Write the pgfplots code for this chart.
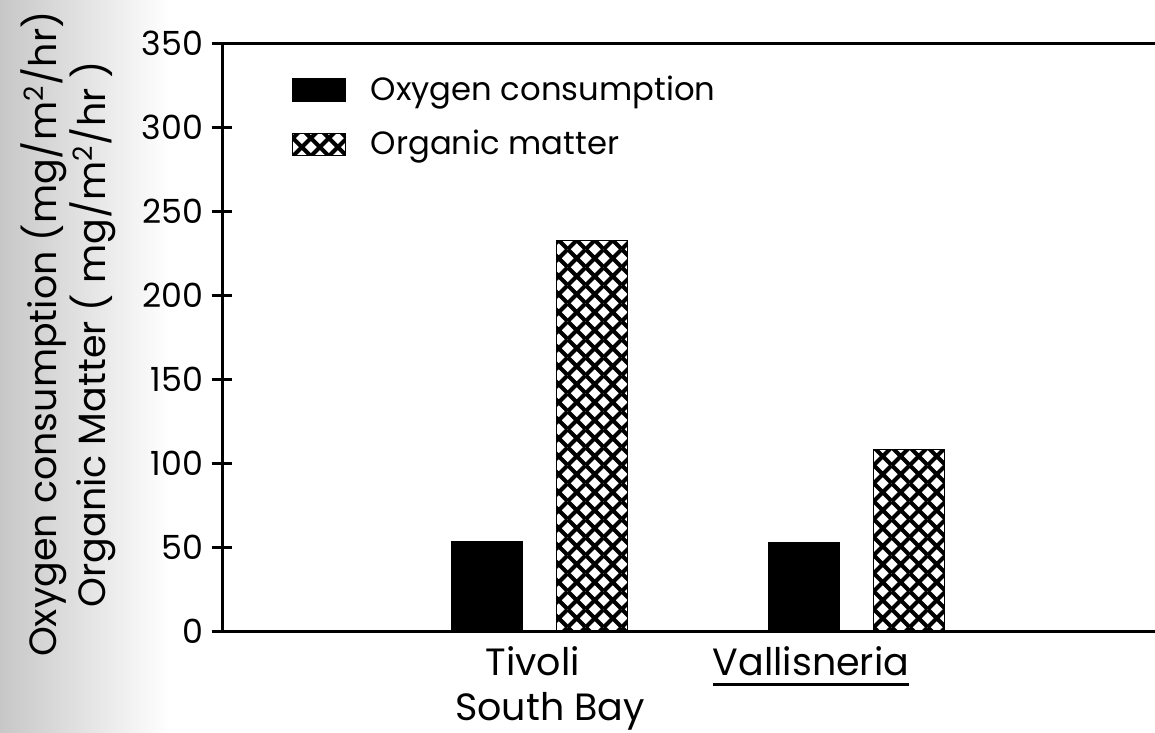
\documentclass[border=0pt]{standalone}
\usepackage{fontspec}
\setmainfont{Poppins}
\usepackage{pgfplots}
\pgfplotsset{compat=1.18}
\usetikzlibrary{patterns}

% diagonal cross hatch, 7.1pt cell
\pgfdeclarepatternformonly{xhatch}{\pgfpoint{0pt}{0pt}}{\pgfpoint{7.1pt}{7.1pt}}{\pgfpoint{7.1pt}{7.1pt}}{%
  \pgfsetlinewidth{1.6pt}%
  \pgfpathmoveto{\pgfpoint{0pt}{0pt}}\pgfpathlineto{\pgfpoint{7.1pt}{7.1pt}}%
  \pgfpathmoveto{\pgfpoint{0pt}{7.1pt}}\pgfpathlineto{\pgfpoint{7.1pt}{0pt}}%
  \pgfusepath{stroke}}

\newcommand\ul[1]{\setbox0\hbox{#1}\rlap{\rule[-4.2pt]{\wd0}{1.2pt}}\box0}
\newcommand\sq{\smash{\textsuperscript{2}}}

\begin{document}
\begin{tikzpicture}
\useasboundingbox (0,0) rectangle (462pt,293.2pt);
\shade[left color=black!22, right color=white] (0,0) rectangle (68pt,293.2pt);
\begin{axis}[
  at={(88.8pt,40.5pt)}, anchor=south west,
  scale only axis, width=373.2pt, height=235.2pt,
  xmin=0, xmax=2.94, ymin=0, ymax=350,
  ybar, bar width=28.4pt,
  axis y line*=left,
  axis line style={line width=1.2pt},
  ytick={0,50,...,350},
  tick align=center,
  major tick length=8pt,
  tick style={line width=1.1pt, black},
  yticklabel style={font=\fontsize{13.3}{13.3}\selectfont},
  /pgf/number format/assume math mode=true,
  xtick={1.034,1.856},
  xticklabels={{Tivoli\rule{14pt}{0pt}\\South Bay},{\ul{Vallisneria}}},
  xticklabel style={font=\fontsize{15.2}{17.8}\selectfont, align=center, yshift=1.5pt},
  xtick style={draw=none},
  ylabel={Oxygen consumption (mg/m\sq/hr)\\Organic Matter ( mg/m\sq/hr )},
  ylabel style={at={(axis description cs:-0.165,0.506)}, anchor=center, align=center, font=\fontsize{15.2}{16}\selectfont},
  legend style={draw=none, fill=none, at={(axis description cs:0.075,0.955)}, anchor=north west,
    font=\fontsize{12.9}{14}\selectfont, row sep=6.5pt, inner sep=0pt,
    /tikz/every odd column/.append style={column sep=8pt}},
  legend cell align=left,
]
\addplot[fill=black, draw=black, bar shift=-21pt,
  legend image code/.code={\fill[black] (0pt,-4.5pt) rectangle (21pt,4.5pt);}]
  coordinates {(1,54) (2,53)};
\addlegendentry{Oxygen consumption}
\addplot[draw=black, pattern=xhatch, bar shift=21pt,
  legend image code/.code={\draw[black, pattern=xhatch] (0pt,-4.5pt) rectangle (21pt,4.5pt);}]
  coordinates {(1,233) (2,108.5)};
\addlegendentry{Organic matter}
\end{axis}
\end{tikzpicture}
\end{document}
